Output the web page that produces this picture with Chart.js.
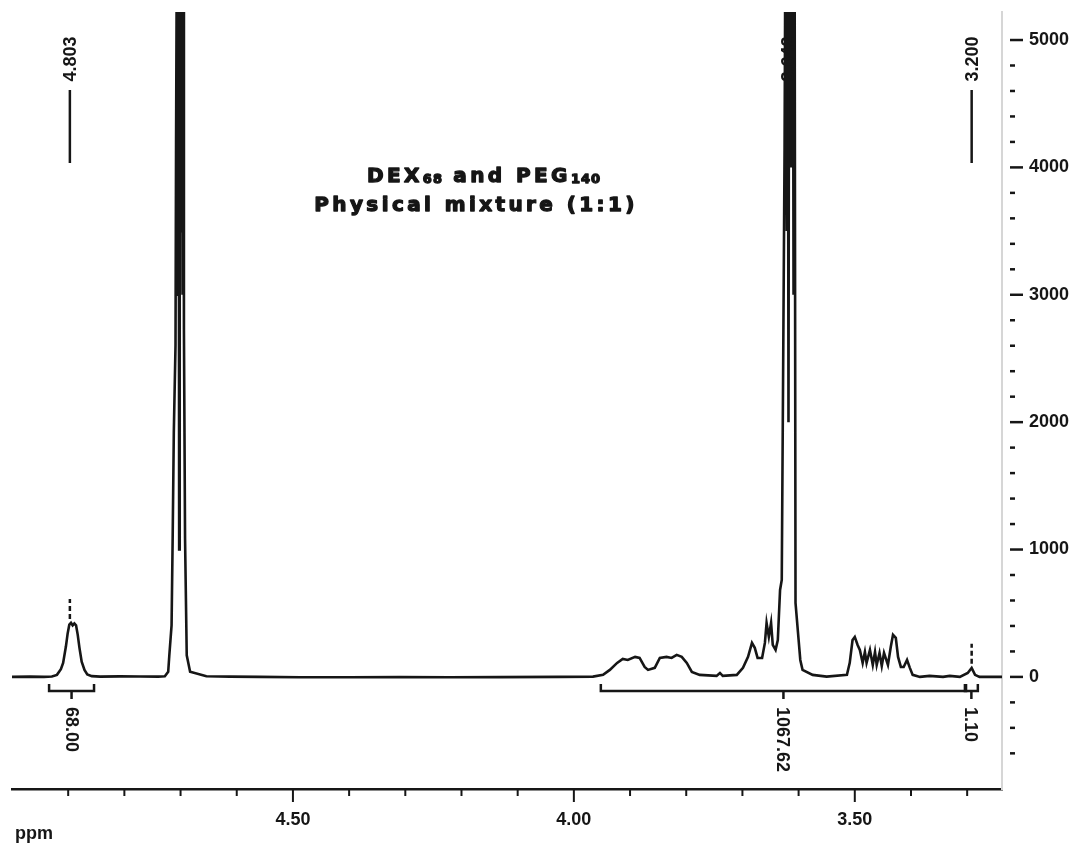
<!DOCTYPE html>
<html>
<head>
<meta charset="utf-8">
<title>DEX68 and PEG140 physical mixture (1:1) – 1H NMR</title>
<script src="https://cdn.jsdelivr.net/npm/chart.js@4.4.1/dist/chart.umd.min.js"></script>
<style>
  html, body { margin: 0; padding: 0; background: #ffffff; }
  #wrap { position: relative; width: 1075px; height: 846px; }
</style>
</head>
<body>
<div id="wrap"><canvas id="spectrum"></canvas></div>
<script>
// 1H spectrum trace: chemical shift (ppm) and intensity
const shiftPpm = [
  5.000, 4.968, 4.943, 4.929, 4.920, 4.913, 4.909, 4.904, 4.901, 4.898,
  4.895, 4.892, 4.889, 4.886, 4.883, 4.880, 4.876, 4.871, 4.866, 4.858,
  4.843, 4.808, 4.772, 4.740, 4.728, 4.722, 4.720, 4.716, 4.714, 4.712,
  4.709, 4.708, 4.7055, 4.7045, 4.7035, 4.7025, 4.7015, 4.7005, 4.6995, 4.6985,
  4.6975, 4.6965, 4.6955, 4.694, 4.692, 4.689, 4.683,
  4.654, 4.612, 4.559, 4.488, 4.399, 4.310, 4.221, 4.132, 4.025, 3.966,
  3.948, 3.936, 3.923, 3.913, 3.904, 3.891, 3.883, 3.874, 3.868, 3.856,
  3.847, 3.835, 3.826, 3.817, 3.808, 3.799, 3.790, 3.776, 3.746, 3.740,
  3.735, 3.710, 3.699, 3.690, 3.683, 3.678, 3.673, 3.665, 3.660, 3.657,
  3.653, 3.649, 3.646, 3.641, 3.637, 3.633, 3.630, 3.628, 3.625, 3.6225,
  3.621, 3.6195, 3.618, 3.6165, 3.615, 3.6135, 3.612, 3.6105, 3.609, 3.6075,
  3.6055, 3.600, 3.597, 3.593, 3.575, 3.550, 3.514,
  3.509, 3.504, 3.500, 3.495, 3.491, 3.486, 3.482, 3.479, 3.473, 3.468,
  3.464, 3.461, 3.456, 3.452, 3.448, 3.441, 3.436, 3.432, 3.427, 3.423,
  3.418, 3.413, 3.407, 3.402, 3.397, 3.384, 3.367, 3.343, 3.331, 3.313,
  3.299, 3.292, 3.286, 3.278, 3.238
];
const intensity = [
  0, 2, 0, 3, 16, 60, 110, 240, 340, 410,
  424, 405, 420, 405, 330, 230, 120, 55, 20, 6,
  2, 4, 3, 2, 5, 40, 170, 405, 1110, 1920,
  2600, 4200, 7000, 3000, 7000, 1000, 7000, 3500, 7000, 3500,
  7000, 3000, 7000, 2730, 1085, 170, 40,
  5, 2, 0, -3, -3, -2, -3, -2, 0, 2,
  16, 55, 110, 141, 133, 157, 149, 78, 55, 71,
  149, 157, 149, 173, 157, 110, 39, 16, 8, 31,
  8, 16, 71, 157, 267, 228, 149, 149, 267, 424,
  314, 424, 251, 212, 290, 683, 761, 2095, 4134, 7000,
  3500, 7000, 2000, 7000, 4000, 7000, 4000, 7000, 3000, 7000,
  581, 290, 133, 55, 16, 2, 16,
  110, 290, 314, 251, 212, 110, 196, 110, 212, 94,
  196, 94, 188, 86, 188, 94, 235, 330, 306, 157,
  78, 78, 133, 71, 16, 0, 8, 0, 8, 0,
  31, 71, 16, 0, 0
];

// Peak picking: position on the shift axis and the printed shift
const peakShifts = [4.897, 3.618, 3.292];
const peakLabels = ['4.803', '3.642', '3.200'];

// Integral regions (left edge, right edge in ppm) and their values
const integralFrom = [4.934, 3.952, 3.304];
const integralTo = [4.854, 3.302, 3.281];
const integralLabels = ['68.00', '1067.62', '1.10'];

// Axis ticks
const xTickValues = [4.9, 4.8, 4.7, 4.6, 4.5, 4.4, 4.3, 4.2, 4.1, 4.0, 3.9, 3.8, 3.7, 3.6, 3.5, 3.4, 3.3];
const xLabelValues = [4.5, 4.0, 3.5];
const xTickLabels = ['4.50', '4.00', '3.50'];
const xAxisName = 'ppm';
const yTickValues = [-600, -400, -200, 0, 200, 400, 600, 800, 1000, 1200, 1400, 1600, 1800, 2000,
  2200, 2400, 2600, 2800, 3000, 3200, 3400, 3600, 3800, 4000, 4200, 4400, 4600, 4800, 5000];
const yLabelValues = [0, 1000, 2000, 3000, 4000, 5000];
const yTickLabels = ['0', '1000', '2000', '3000', '4000', '5000'];

// Sample description drawn inside the plot (subscripted runs)
const titleLine1 = [['DEX', false], ['68', true], [' and PEG', false], ['140', true]];
const titleLine2 = [['Physical mixture (1:1)', false]];

const INK = '#161616';
const LABEL_FAMILY = "'Liberation Sans', Arial, sans-serif";
const TITLE_FAMILY = "'DejaVu Sans', Verdana, sans-serif";

function findIndex(list, v) {
  return list.findIndex(l => Math.abs(l - v) < 1e-6);
}

function apexNear(shift) {
  let best = -Infinity;
  shiftPpm.forEach((s, i) => {
    if (Math.abs(s - shift) <= 0.006 && intensity[i] > best) best = intensity[i];
  });
  return best;
}

// heavy title text: bold face thickened with a thin outline
function drawRuns(ctx, runs, cx, baseline) {
  const main = 'bold 20px ' + TITLE_FAMILY;
  const sub = 'bold 13px ' + TITLE_FAMILY;
  const parts = runs.map(([text, isSub]) => {
    ctx.font = isSub ? sub : main;
    ctx.letterSpacing = isSub ? '1px' : '3.4px';
    return { text, isSub, w: ctx.measureText(text).width };
  });
  const total = parts.reduce((a, p) => a + p.w, 0);
  let xPos = cx - total / 2;
  ctx.lineWidth = 1.3;
  ctx.lineJoin = 'round';
  parts.forEach(p => {
    ctx.font = p.isSub ? sub : main;
    ctx.letterSpacing = p.isSub ? '1px' : '3.4px';
    const yy = baseline + (p.isSub ? 1 : 0);
    ctx.fillText(p.text, xPos, yy);
    ctx.strokeText(p.text, xPos, yy);
    xPos += p.w;
  });
  ctx.letterSpacing = '0px';
}

const nmrDecor = {
  id: 'nmrDecor',
  afterDraw(chart) {
    const { ctx, chartArea } = chart;
    const x = chart.scales.x, y = chart.scales.y;
    ctx.save();
    ctx.strokeStyle = INK;
    ctx.fillStyle = INK;
    ctx.lineCap = 'butt';

    // shift axis tick marks
    ctx.lineWidth = 2;
    xTickValues.forEach(v => {
      const px = x.getPixelForValue(v);
      const major = findIndex(xLabelValues, v) >= 0;
      ctx.beginPath();
      ctx.moveTo(px, chartArea.bottom);
      ctx.lineTo(px, chartArea.bottom + (major ? 13 : 7));
      ctx.stroke();
    });

    // axis name under the left end of the shift axis
    ctx.font = 'bold 18px ' + LABEL_FAMILY;
    ctx.textAlign = 'left';
    ctx.textBaseline = 'alphabetic';
    ctx.fillText(xAxisName, chartArea.left + 3, chartArea.bottom + 50);

    // intensity axis tick marks
    ctx.lineWidth = 2.5;
    yTickValues.forEach(v => {
      const py = y.getPixelForValue(v);
      const major = yLabelValues.includes(v);
      ctx.beginPath();
      ctx.moveTo(y.left + 8, py);
      ctx.lineTo(y.left + (major ? 21 : 13), py);
      ctx.stroke();
    });

    // integral brackets and values
    const barY = y.getPixelForValue(0) + 14;
    ctx.lineWidth = 2.5;
    integralFrom.forEach((from, i) => {
      const x1 = x.getPixelForValue(from);
      const x2 = x.getPixelForValue(integralTo[i]);
      const xm = (x1 + x2) / 2;
      ctx.beginPath();
      ctx.moveTo(x1, barY - 7);
      ctx.lineTo(x1, barY);
      ctx.lineTo(x2, barY);
      ctx.lineTo(x2, barY - 7);
      ctx.moveTo(xm, barY);
      ctx.lineTo(xm, barY + 8);
      ctx.stroke();
      ctx.save();
      ctx.translate(xm, barY + 16);
      ctx.rotate(Math.PI / 2);
      ctx.font = 'bold 18px ' + LABEL_FAMILY;
      ctx.textAlign = 'left';
      ctx.textBaseline = 'middle';
      ctx.fillText(integralLabels[i], 0, 1);
      ctx.restore();
    });

    // peak picking marks and labels
    peakShifts.forEach((s, i) => {
      const px = x.getPixelForValue(s);
      const apex = apexNear(s);
      if (apex < y.max) {
        const ay = y.getPixelForValue(apex);
        ctx.save();
        ctx.lineWidth = 2.5;
        ctx.setLineDash([5, 3]);
        ctx.beginPath();
        ctx.moveTo(px, ay - 4);
        ctx.lineTo(px, ay - 24);
        ctx.stroke();
        ctx.restore();
      }
      ctx.lineWidth = 2.5;
      ctx.beginPath();
      ctx.moveTo(px, chartArea.top + 78);
      ctx.lineTo(px, chartArea.top + 151);
      ctx.stroke();
      ctx.save();
      ctx.translate(px, chartArea.top + 47);
      ctx.rotate(-Math.PI / 2);
      ctx.font = 'bold 18px ' + LABEL_FAMILY;
      ctx.textAlign = 'center';
      ctx.textBaseline = 'middle';
      ctx.fillText(peakLabels[i], 0, 1);
      ctx.restore();
    });

    // sample description
    ctx.textAlign = 'left';
    ctx.textBaseline = 'alphabetic';
    drawRuns(ctx, titleLine1, 484, 182);
    drawRuns(ctx, titleLine2, 476, 211);

    ctx.restore();
  }
};

new Chart(document.getElementById('spectrum'), {
  type: 'line',
  data: {
    datasets: [{
      data: shiftPpm.map((s, i) => ({ x: s, y: intensity[i] })),
      borderColor: INK,
      borderWidth: 2.6,
      pointRadius: 0,
      tension: 0,
      fill: false
    }]
  },
  options: {
    responsive: true,
    maintainAspectRatio: false,
    animation: false,
    devicePixelRatio: 1,
    events: [],
    layout: { padding: { left: 12, top: 12, right: 0, bottom: 0 } },
    plugins: {
      legend: { display: false },
      tooltip: { enabled: false },
      title: { display: false }
    },
    scales: {
      x: {
        type: 'linear',
        position: 'bottom',
        reverse: true,
        min: 3.238,
        max: 5.0,
        afterBuildTicks: s => { s.ticks = xTickValues.map(v => ({ value: v })); },
        afterFit: s => { s.height = 57; },
        grid: { display: false, drawTicks: false },
        border: { display: true, color: INK, width: 2.5 },
        ticks: {
          autoSkip: false,
          maxRotation: 0,
          padding: 20,
          color: INK,
          font: { family: LABEL_FAMILY, size: 18, weight: 'bold' },
          callback: v => {
            const i = findIndex(xLabelValues, v);
            return i >= 0 ? xTickLabels[i] : '';
          }
        }
      },
      y: {
        type: 'linear',
        position: 'right',
        min: -880,
        max: 5220,
        afterBuildTicks: s => { s.ticks = yTickValues.map(v => ({ value: v })); },
        afterFit: s => { s.width = 73; },
        grid: { display: false, drawTicks: true, tickLength: 27 },
        border: { display: true, color: '#d6d6d6', width: 2, dash: [2, 2] },
        ticks: {
          autoSkip: false,
          padding: 0,
          color: INK,
          font: { family: LABEL_FAMILY, size: 18, weight: 'bold' },
          callback: v => {
            const i = yLabelValues.indexOf(v);
            return i >= 0 ? yTickLabels[i] : '';
          }
        }
      }
    }
  },
  plugins: [nmrDecor]
});
</script>
</body>
</html>
